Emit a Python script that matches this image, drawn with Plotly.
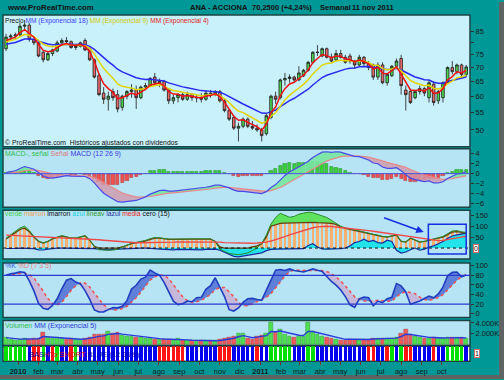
import numpy as np
import pandas as pd
import plotly.graph_objects as go

# ---------------- data (weekly) ----------------
dates = pd.date_range('2009-12-14', periods=100, freq='7D')

open_ = [77.5, 82.5, 83, 83.5, 87.5, 88, 81.5, 80, 76, 73,
         75.5, 76.5, 80, 81, 80.5, 78, 78.5, 81, 77.5, 73,
         67, 61, 59, 61.5, 60.5, 56.5, 60, 61.5, 62, 59.5,
         63, 63.5, 66.5, 64.5, 65, 62, 58.5, 59.5, 60.5, 59,
         60.5, 59.5, 59.5, 59, 61, 60.5, 61.5, 58.5, 55.5, 53.5,
         50.5, 51, 53, 51, 50.5, 50, 49, 53.5, 60, 59.5,
         65.5, 66, 66.5, 65.5, 67, 69, 72, 76, 74.5, 77.5,
         74, 73, 75.5, 74, 74.5, 72.5, 71, 74, 71.5, 71,
         66.5, 71, 64.5, 67, 70.5, 73.5, 62, 61.5, 59.5, 61.5,
         62.5, 59.5, 64, 58.5, 59.5, 64.5, 70, 68.5, 71, 67.4]
high = [84, 84, 84.5, 89, 90.5, 89, 83, 80.5, 77, 76.5,
        77.5, 81, 82, 82.5, 81, 79.5, 80.5, 82, 78.5, 73.5,
        68, 63, 61.5, 62.5, 62, 60.5, 62, 64, 63.5, 63.5,
        64.5, 66.5, 68, 66, 65.5, 62.5, 60.5, 61, 61, 61.5,
        61, 60.5, 61, 62, 62, 62, 62, 59, 56, 54,
        52, 53.5, 53.5, 52.5, 51.5, 50.5, 54.5, 60.5, 61.5, 66,
        68, 67.5, 67, 70.5, 69.5, 72.5, 76.5, 79, 78, 78,
        75.5, 77, 77, 75, 75.5, 73, 75, 74.5, 72.5, 71.5,
        72, 72, 68, 71, 73.5, 75, 63.5, 62.5, 62, 63.5,
        63, 65.5, 65, 62, 65, 70.5, 72.5, 71.5, 71.5, 71]
low = [76.5, 81, 81.5, 83, 85.5, 80.5, 79, 74, 72, 72.5,
       74.5, 76, 79, 79.5, 77.5, 77, 78, 76.5, 72.5, 66,
       60, 57.5, 55.5, 58.5, 55, 55.5, 59, 59.5, 56, 59,
       62, 63, 63.5, 63, 61.5, 57.5, 57.5, 58, 58.5, 58.5,
       58.5, 58, 58, 58.5, 59.5, 60, 58, 55, 52.5, 50,
       47, 50.5, 50.5, 50, 49.5, 47, 48.5, 53, 57.5, 59,
       63.5, 64.5, 64.5, 65, 66.5, 68.5, 71.5, 74.5, 74, 73.5,
       72, 72.5, 73.5, 71.5, 71.5, 69.5, 70.5, 70.5, 69, 65.5,
       65.5, 64, 63.5, 66.5, 70, 60.5, 55.5, 57.5, 59, 60.5,
       60, 58, 57, 57.5, 58, 64, 67.5, 67.5, 66, 66.5]
close = [82.5, 83, 83.5, 87.5, 88, 81.5, 80, 74.5, 73, 75.5,
         77, 80, 81, 80.5, 78, 78.5, 80, 77, 73, 66.5,
         60.5, 59, 60, 59.5, 56, 60, 61.5, 62, 59.5, 63,
         63.5, 66, 64.5, 65, 62, 58.5, 59.5, 60.5, 59, 60.5,
         59.5, 59.5, 59, 61, 60.5, 61.5, 58.5, 55.5, 53, 50.5,
         51, 53, 51, 50.5, 50, 48.5, 54, 60, 59, 65.5,
         66, 66.5, 65.5, 68, 69, 72, 76, 76, 77.5, 74,
         72.5, 75.5, 74, 72, 72.5, 71, 74, 71.5, 70, 66.5,
         71, 64.5, 67.5, 70.5, 72.5, 63.5, 60.5, 58, 61.5, 62.5,
         61, 64.5, 58, 61.5, 64.5, 70, 68.5, 71, 67.4, 70.25]
volume_k = [1300, 900, 800, 1000, 1100, 1000, 1100, 1200, 2300, 1300,
            1200, 1400, 1100, 1000, 1100, 900, 900, 1100, 1300, 1800,
            1900, 1800, 2500, 2000, 2300, 1700, 1600, 1500, 1400, 1300,
            1200, 1100, 1000, 1000, 900, 1000, 800, 1200, 800, 800,
            700, 700, 800, 700, 700, 700, 900, 1200, 1300, 1500,
            2000, 2100, 1100, 900, 1600, 1700, 2000, 4000, 2300, 2800,
            1900, 1600, 1400, 1500, 1600, 4000, 2400, 1800, 1500, 1300,
            1100, 900, 800, 700, 1000, 900, 1000, 900, 1000, 1200,
            1100, 1200, 1100, 1200, 1400, 2000, 2800, 1800, 1500, 1300,
            1100, 1200, 1300, 1100, 1200, 1300, 1400, 1300, 1300, 1200]
signal_codes = ("ggggg" "b" "rr" "g" "b" "r" "g" "bb" "r" "g" "b"
                "bbbbbbbbbbbbbbbb" "rrrrrr" "bbbbbbb" "rrr" "bbbbb" "r" "bb"
                "ggggg" "bbb" "gg" "bbbbbbbbbbb" "rr" "bb" "r" "g" "b" "g" "rr"
                "bbbb" "r" "bb" "gggg" "b")
marron = [41, 55, 70, 85, 91, 75, 50, 30, 23, 30,
          42, 50, 55, 50, 45, 45, 50, 55, 35, 8,
          0, 0, 0, 0, 0, 5, 14, 20, 25, 27,
          33, 40, 45, 45, 42, 40, 40, 41, 41, 41,
          41, 41, 42, 42, 41, 30, 5, 0, 0, 0,
          0, 0, 0, 5, 10, 20, 50, 100, 105, 113,
          114, 115, 115, 116, 117, 117, 118, 116, 115, 114,
          113, 108, 95, 90, 85, 82, 78, 72, 68, 62,
          58, 52, 50, 55, 59, 30, 27, 45, 35, 27,
          30, 36, 40, 45, 50, 62, 73, 75, 70, 68]
verde = [45, 60, 76, 92, 100, 80, 53, 32, 24, 31,
         43, 51, 57, 52, 46, 46, 52, 57, 36, 8,
         -8, -10, -10, -9, -6, 5, 14, 21, 26, 29,
         35, 43, 48, 47, 43, 41, 41, 42, 42, 42,
         42, 42, 43, 43, 42, 30, -5, -15, -25, -28,
         -30, -27, -22, -12, 0, 20, 60, 110, 140, 159,
         150, 141, 145, 155, 160, 164, 162, 155, 150, 140,
         127, 115, 100, 92, 86, 83, 79, 73, 69, 63,
         59, 53, 51, 56, 61, 32, 28, 46, 36, 28,
         31, 37, 42, 47, 53, 66, 78, 80, 74, 72]
azul = [-2, -3, -2, 0, 0, 0, -3, -8, -9, -5,
        -2, 0, 0, 0, 0, 0, 0, 0, 0, -3,
        -5, -8, -8, -6, -5, -3, 0, 0, 0, 0,
        0, 0, -3, -5, -6, -8, -8, -6, -7, -8,
        -6, -7, -8, -6, -5, -5, -10, -20, -30, -38,
        -40, -36, -32, -28, -25, -22, -12, -6, -5, -5,
        -5, -6, -5, -4, -3, 12, 20, 5, -4, -5,
        -5, -4, -3, 0, 10, 25, 30, 41, 30, 35,
        25, 23, 36, 30, -10, -23, -18, -8, 0, -10,
        -5, 5, 10, 20, 30, 45, 55, 60, 65, 68]
media = [59, 58, 57, 57, 57, 56, 55, 54, 52, 51,
         50, 49, 48, 47, 46, 45, 44, 43, 42, 40,
         38, 36, 34, 32, 30, 28, 26, 25, 24, 24,
         24, 25, 25, 26, 26, 27, 27, 28, 28, 28,
         29, 29, 29, 29, 29, 28, 27, 25, 24, 23,
         22, 22, 22, 22, 23, 24, 27, 32, 38, 45,
         52, 60, 67, 75, 82, 88, 93, 97, 100, 100,
         99, 97, 95, 93, 91, 89, 86, 83, 80, 77,
         74, 71, 68, 65, 62, 59, 56, 52, 48, 45,
         42, 38, 35, 34, 35, 38, 42, 46, 50, 54]

month_ticks = pd.date_range('2010-01-01', '2011-10-01', freq='MS')
month_names = ['<b>2010</b>', 'feb', 'mar', 'abr', 'may', 'jun', 'jul', 'ago', 'sep', 'oct', 'nov', 'dic',
               '<b>2011</b>', 'feb', 'mar', 'abr', 'may', 'jun', 'jul', 'ago', 'sep', 'oct']

# ---------------- indicators ----------------
def ema(vals, n, seed):
    out, prev, k = [], seed, 2.0 / (n + 1)
    for v in vals:
        prev = prev + k * (v - prev)
        out.append(prev)
    return np.array(out)

c = np.array(close, dtype=float)
ema18 = ema(c, 18, 79.0)
ema9 = ema(c, 9, 80.0)
ema4 = ema(c, 4, 80.0)
macd = ema(c, 12, 80.0) - ema(c, 26, 80.0)
sig = ema(macd, 9, 0.0)
hist = macd - sig

H, L, C = pd.Series(high), pd.Series(low), pd.Series(close)
hh = H.rolling(7, min_periods=1).max()
ll = L.rolling(7, min_periods=1).min()
raw = 100 * (C - ll) / (hh - ll)
stk = raw.rolling(3, min_periods=1).mean().values
std = pd.Series(stk).rolling(5, min_periods=1).mean().values
vol_ema = ema(volume_k, 5, volume_k[0])

W = 7 * 24 * 3600 * 1000
tms = (dates.astype('int64') // 10**6).values.astype(float)

def split_fill(a, b, pos_col, neg_col, yaxis):
    a = np.asarray(a, float); b = np.asarray(b, float)
    d = a - b
    out = []
    def poly(st, sa, sb, col):
        xs = pd.to_datetime(np.array(st + st[::-1]), unit='ms')
        ys = sa + sb[::-1]
        return go.Scatter(x=xs, y=ys, fill='toself', fillcolor=col, mode='lines',
                          line=dict(width=0), yaxis=yaxis, hoverinfo='skip', showlegend=False)
    st, sa, sb = [tms[0]], [a[0]], [b[0]]
    sign = d[0] >= 0
    for k in range(1, len(tms)):
        s = d[k] >= 0
        if s != sign:
            f = d[k-1] / (d[k-1] - d[k])
            tc = tms[k-1] + f * (tms[k] - tms[k-1])
            vc = a[k-1] + f * (a[k] - a[k-1])
            st.append(tc); sa.append(vc); sb.append(vc)
            out.append(poly(st, sa, sb, pos_col if sign else neg_col))
            st, sa, sb = [tc], [vc], [vc]
            sign = s
        st.append(tms[k]); sa.append(a[k]); sb.append(b[k])
    out.append(poly(st, sa, sb, pos_col if sign else neg_col))
    return out

fig = go.Figure()

# price panel
fig.add_trace(go.Candlestick(x=dates, open=open_, high=high, low=low, close=close, yaxis='y',
                             increasing=dict(line=dict(color='#1a1a1a', width=0.8), fillcolor='#4fd64f'),
                             decreasing=dict(line=dict(color='#1a1a1a', width=0.8), fillcolor='#e86a6a'),
                             whiskerwidth=0, showlegend=False))
fig.add_trace(go.Scatter(x=dates, y=ema18, mode='lines', line=dict(color='#2b2bf0', width=1.5), yaxis='y', showlegend=False))
fig.add_trace(go.Scatter(x=dates, y=ema9, mode='lines', line=dict(color='#e2d400', width=1.5), yaxis='y', showlegend=False))
fig.add_trace(go.Scatter(x=dates, y=ema4, mode='lines', line=dict(color='#ee1111', width=1.5), yaxis='y', showlegend=False))

# MACD panel
for tr in split_fill(macd, sig, 'rgba(120,230,160,0.9)', 'rgba(210,150,170,0.8)', 'y2'):
    fig.add_trace(tr)
fig.add_trace(go.Bar(x=dates, y=hist, width=W * 0.7, yaxis='y2', showlegend=False,
                     marker=dict(color=['#3ccf3c' if h >= 0 else '#f05050' for h in hist],
                                 line=dict(color=['#1f8a1f' if h >= 0 else '#b03030' for h in hist], width=0.5))))
fig.add_trace(go.Scatter(x=dates, y=sig, mode='lines', line=dict(color='#e88888', width=1.2), yaxis='y2', showlegend=False))
fig.add_trace(go.Scatter(x=dates, y=macd, mode='lines', line=dict(color='#4a4ae8', width=1.2), yaxis='y2', showlegend=False))

# custom panel
fig.add_trace(go.Bar(x=dates, y=marron, width=W * 0.55, yaxis='y3', showlegend=False,
                     marker=dict(color='#f6b170', line=dict(width=0))))
fig.add_trace(go.Scatter(x=dates, y=marron, mode='lines', line=dict(width=0), yaxis='y3', showlegend=False, hoverinfo='skip'))
fig.add_trace(go.Scatter(x=dates, y=verde, mode='lines', line=dict(width=0), fill='tonexty',
                         fillcolor='#5fe35f', yaxis='y3', showlegend=False))
fig.add_trace(go.Scatter(x=dates, y=azul, mode='lines', line=dict(color='#1c2c9c', width=1.2), fill='tozeroy',
                         fillcolor='#22e3ea', yaxis='y3', showlegend=False))
fig.add_trace(go.Scatter(x=dates, y=marron, mode='lines', line=dict(color='#6a3a10', width=1.2), yaxis='y3', showlegend=False))
fig.add_trace(go.Scatter(x=dates, y=verde, mode='lines', line=dict(color='#2a8a2a', width=1.0), yaxis='y3', showlegend=False))
fig.add_trace(go.Scatter(x=dates, y=media, mode='lines', line=dict(color='#f04848', width=1.4), yaxis='y3', showlegend=False))

# stochastic panel
for tr in split_fill(stk, std, 'rgba(80,110,210,0.85)', 'rgba(200,178,215,0.9)', 'y4'):
    fig.add_trace(tr)
fig.add_trace(go.Scatter(x=dates, y=std, mode='lines', line=dict(color='#f05050', width=1.5, dash='dot'), yaxis='y4', showlegend=False))
fig.add_trace(go.Scatter(x=dates, y=stk, mode='lines', line=dict(color='#1f3fc0', width=1.6), yaxis='y4', showlegend=False))

# volume panel
up = [cl >= op for op, cl in zip(open_, close)]
fig.add_trace(go.Bar(x=dates, y=volume_k, width=W * 0.8, yaxis='y5', showlegend=False,
                     marker=dict(color=['#4fe04f' if u else '#f05a5a' for u in up],
                                 line=dict(color=['#2a9a2a' if u else '#b03a3a' for u in up], width=0.5))))
fig.add_trace(go.Scatter(x=dates, y=vol_ema, mode='lines', line=dict(color='#2b3bd8', width=1.4), yaxis='y5', showlegend=False))

# signal colour strip
cmap = {'g': '#00e000', 'b': '#0000ee', 'r': '#ff1414'}
fig.add_trace(go.Bar(x=dates, y=[1] * len(dates), width=W * 0.74, yaxis='y6', showlegend=False,
                     marker=dict(color=[cmap[s] for s in signal_codes], line=dict(width=0))))

# ---------------- layout ----------------
FW, FH = 504, 380
def fy(px):
    return 1 - px / FH
X0, X1 = 3 / FW, 470 / FW
panels = [(13, 146, '#c9f1fb'), (148, 207, '#b6e4f5'), (210, 259, '#b6e4f5'),
          (263, 318, '#b6e4f5'), (321, 346, '#b6e4f5'), (347, 362, '#ffffff')]
font = 'Liberation Sans, Arial, sans-serif'
tickf = dict(family=font, size=7.5, color='#1a1a1a')

def yax(i, **kw):
    top, bot, _ = panels[i]
    d = dict(domain=[fy(bot), fy(top)], anchor='x', side='right', showgrid=False, zeroline=False,
             ticks='outside', ticklen=3, tickcolor='#303030', tickfont=tickf, showline=False, fixedrange=True)
    d.update(kw)
    return d

shapes = []
for top, bot, col in panels:
    shapes.append(dict(type='rect', xref='paper', yref='paper', x0=X0, x1=X1, y0=fy(bot), y1=fy(top),
                       fillcolor=col, line=dict(color='#1d4444', width=1.5), layer='below'))
shapes += [
    dict(type='line', xref='paper', yref='y2', x0=X0, x1=X1, y0=0, y1=0, line=dict(color='#4a5ae0', width=1)),
    dict(type='line', xref='paper', yref='y3', x0=X0, x1=X1, y0=0, y1=0, line=dict(color='#101010', width=1, dash='dot')),
    dict(type='line', xref='paper', yref='y4', x0=X0, x1=X1, y0=80, y1=80, line=dict(color='#2a3ad0', width=1.2)),
    dict(type='line', xref='paper', yref='y4', x0=X0, x1=X1, y0=20, y1=20, line=dict(color='#2a3ad0', width=1.2)),
    dict(type='rect', xref='x', yref='y3', x0='2011-09-11', x1='2011-11-07', y0=-27, y1=109,
         line=dict(color='#1530e0', width=1.5)),
    dict(type='rect', xref='paper', yref='paper', x0=499 / FW, x1=1, y0=0, y1=1, fillcolor='#5e6464',
         line=dict(width=0), layer='below'),
    dict(type='rect', xref='paper', yref='paper', x0=0, x1=1, y0=0, y1=fy(376), fillcolor='#5e6464',
         line=dict(width=0), layer='below'),
]

def note(px_x, px_y, text, size=7, bold=False, **kw):
    t = '<b>' + text + '</b>' if bold else text
    d = dict(xref='paper', yref='paper', x=px_x / FW, y=fy(px_y), text=t, showarrow=False,
             xanchor='left', yanchor='middle', font=dict(family=font, size=size, color='#111111'))
    d.update(kw)
    return d

def sp(col, txt):
    return '<span style="color:%s">%s</span>' % (col, txt)

annotations = [
    note(5, 6, 'www.ProRealTime.com', size=7.8, bold=True),
    note(188, 6, 'ANA - ACCIONA', size=7.5, bold=True),
    note(250, 6, '70,2500 (+4,24%)', size=7.5, bold=True),
    note(318, 6, 'Semanal', size=7.5, bold=True),
    note(350, 6, '11 nov 2011', size=7.5, bold=True),
    note(3, 19, sp('#111111', 'Precio ') + sp('#3b3bff', 'MM (Exponencial 18) ') +
         sp('#cfc800', 'MM (Exponencial 9) ') + sp('#e02020', 'MM (Exponencial 4)'), size=6.6),
    note(3, 142, '© ProRealTime.com  Históricos ajustados con dividendos', size=6.8),
    note(3, 153, sp('#2fbf4a', 'MACD-, señal ') + sp('#e07878', 'Señal ') + sp('#3b3be0', 'MACD (12 26 9)')),
    note(3, 214, sp('#44d044', 'verde ') + sp('#f0a050', 'marron ') + sp('#111111', 'lmarron ') +
         sp('#18d0dc', 'azul ') + sp('#2a9a2a', 'lineav ') + sp('#1c2c9c', 'lazul ') +
         sp('#f02020', 'media ') + sp('#111111', 'cero (15)'), size=6.8),
    note(3, 266, sp('#3b5be0', '%K ') + sp('#e88080', '%D (7 3 5)')),
    note(3, 327, sp('#2fbf4a', 'Volumen ') + sp('#2b3bd8', 'MM (Exponencial 5)')),
    note(27, 355, sp('#0000b0', 'BAS') + sp('#e01010', 'HTo SHORT ') + sp('#0000b0', 'BLUE (12 26 9)'), size=7.5),
    dict(xref='x', yref='y3', x='2011-09-04', y=73, ax='2011-07-04', ay=141, axref='x', ayref='y3',
         showarrow=True, arrowhead=2, arrowsize=1, arrowwidth=1.5, arrowcolor='#1530e0', text=''),
    note(473, 248, '0', size=7, bgcolor='#ffffff', bordercolor='#d07070', borderwidth=1, borderpad=0),
    note(474, 354, '1', size=7, bgcolor='#ffffff', bordercolor='#d07070', borderwidth=1, borderpad=0),
]

lo, hi = np.log10(45.65), np.log10(93.0)
fig.update_layout(
    width=FW, height=FH, margin=dict(l=0, r=0, t=0, b=0),
    paper_bgcolor='#009797', plot_bgcolor='rgba(0,0,0,0)',
    showlegend=False, bargap=0, barmode='overlay', boxgap=0.2,
    font=dict(family=font, size=7, color='#111111'),
    xaxis=dict(domain=[X0, X1], anchor='y6', range=['2009-12-09 10:00', '2011-11-12 17:00'],
               tickvals=list(month_ticks), ticktext=month_names, ticks='outside', ticklen=3,
               tickcolor='#703030', tickfont=dict(family=font, size=7.5, color='#1a1a1a'),
               showgrid=False, zeroline=False, showline=False, rangeslider=dict(visible=False), fixedrange=True),
    yaxis=yax(0, type='log', range=[lo, hi], tickvals=[50, 55, 60, 65, 70, 75, 80, 85],
              ticktext=['50', '55', '60', '65', '70', '75', '', '85']),
    yaxis2=yax(1, range=[-6.8, 5], tickvals=[-6, -4, -2, 0, 2, 4]),
    yaxis3=yax(2, range=[-50, 172.7], tickvals=[50, 100, 150]),
    yaxis4=yax(3, range=[-8, 106], tickvals=[0, 20, 40, 60, 80, 100]),
    yaxis5=yax(4, range=[-90, 4450], tickvals=[2000, 4000], ticktext=['2.000K', '4.000K']),
    yaxis6=yax(5, range=[0, 1], showticklabels=False, ticks=''),
    shapes=shapes, annotations=annotations,
)

fig.write_html('out.html', config={'displayModeBar': False},
               post_script="document.body.style.margin='0';document.body.style.padding='0';")
